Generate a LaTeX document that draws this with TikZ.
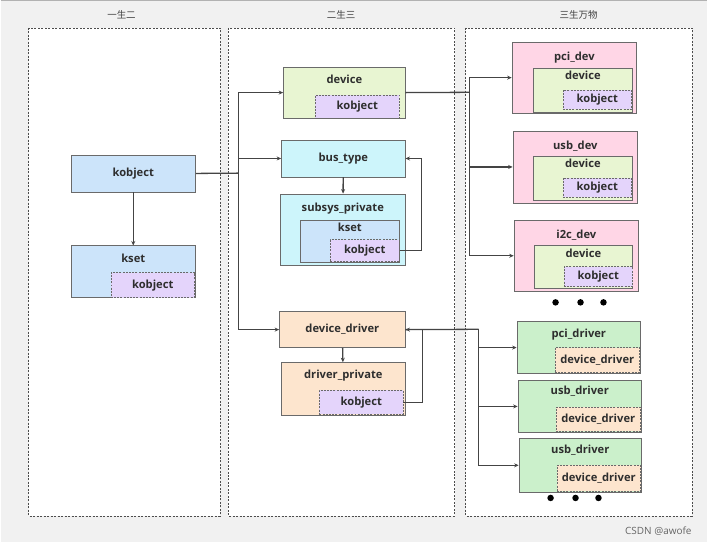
\documentclass[tikz,border=0pt]{standalone}
\usepackage{fontspec}
\setmainfont{Open Sans}
\newfontfamily\cjk{Noto Sans CJK SC}
\usepackage{xcolor}
\definecolor{KObj}{HTML}{E4D4FB}
\definecolor{KBlue}{HTML}{CCE4FA}
\definecolor{DevGreen}{HTML}{E8F5D2}
\definecolor{BusCyan}{HTML}{CDF5FB}
\definecolor{DrvPeach}{HTML}{FDE5CE}
\definecolor{DevPink}{HTML}{FFD6E6}
\definecolor{DrvGreen}{HTML}{CBF0CB}
\definecolor{LineGray}{HTML}{444444}
\definecolor{BoxEdge}{HTML}{6A6A6A}
\definecolor{BgGray}{HTML}{F1F1F1}
\usepackage{tikz}
\usetikzlibrary{arrows.meta, positioning}

\begin{document}
\begin{tikzpicture}[x=1pt, y=-1pt,
  panel/.style={draw=black!70, fill=white, dash pattern=on 2pt off 1.5pt, line width=0.6pt},
  box/.style={draw=BoxEdge, line width=0.6pt, anchor=north west, inner sep=0pt,
    font=\bfseries\fontsize{11.2}{13}\selectfont, text=black!82},
  objbox/.style={box, dash pattern=on 2pt off 1.2pt, fill=KObj},
  lbl/.style={inner sep=0pt, font=\bfseries\fontsize{11.2}{13}\selectfont, text=black!82},
  head/.style={font=\cjk\fontsize{9.5}{11}\selectfont, text=black!75},
  link/.style={draw=LineGray, line width=1.3pt},
  arr/.style={link, -{Stealth[length=4.5pt, width=4pt]}},
  dot/.style={circle, fill=black, inner sep=0pt, minimum size=6.5pt}]

% background and the three panels
\fill[BgGray] (0,0) rectangle (708,543);
\fill[white] (0,543) rectangle (708,549);
\draw[black!30, line width=1.5pt] (0,0.75) -- (708,0.75);
\draw[panel] (28,28) rectangle (220,517);
\draw[panel] (228,28) rectangle (455,517);
\draw[panel] (466,28) rectangle (693,517);
\node[head] (h1) at (121,15) {一生二};
\node[head] (h2) at (341,15) {二生三};
\node[head] (h3) at (579,15) {三生万物};

% left panel
\node[box, fill=KBlue, minimum width=125pt, minimum height=37pt] (kobj) at (70,155) {kobject};
\node[box, fill=KBlue, minimum width=125pt, minimum height=52pt] (kset) at (70,246) {};
\node[lbl, below=8pt of kset.north] (ksett) {kset};
\node[objbox, minimum width=84pt, minimum height=25pt] (ksetobj) at (110,273) {kobject};

% middle panel
\node[box, fill=DevGreen, minimum width=122pt, minimum height=51pt] (device) at (283,67) {};
\node[lbl, below=8pt of device.north] (devicet) {device};
\node[objbox, minimum width=84pt, minimum height=23pt] (devobj) at (315,95) {kobject};

\node[box, fill=BusCyan, minimum width=124pt, minimum height=37pt] (bustype) at (281,140) {bus\_type};

\node[box, fill=BusCyan, minimum width=125pt, minimum height=72pt] (subsys) at (280,194) {};
\node[lbl, below=9pt of subsys.north] (subsyst) {subsys\_private};
\node[box, fill=KBlue, minimum width=99pt, minimum height=43pt] (sskset) at (300,220) {};
\node[lbl, below=3pt of sskset.north] (ssksett) {kset};
\node[objbox, minimum width=69pt, minimum height=22pt] (ssobj) at (330,240) {kobject};

\node[box, fill=DrvPeach, minimum width=126pt, minimum height=36pt] (devdrv) at (279,312) {device\_driver};
\node[box, fill=DrvPeach, minimum width=124pt, minimum height=53pt] (drvpriv) at (281,363) {};
\node[lbl, below=8pt of drvpriv.north] (drvprivt) {driver\_private};
\node[objbox, minimum width=84pt, minimum height=24pt] (drvobj) at (319,391) {kobject};

% right panel: devices
\node[box, fill=DevPink, minimum width=125pt, minimum height=71pt] (pcidev) at (512,42) {};
\node[lbl, below=10pt of pcidev.north] (pcidevt) {pci\_dev};
\node[box, fill=DevGreen, minimum width=100pt, minimum height=44pt] (pcidevd) at (533,68) {};
\node[lbl, below=3pt of pcidevd.north] (pcidevdt) {device};
\node[objbox, minimum width=69pt, minimum height=19pt] (pcidevo) at (563,90) {kobject};

\node[box, fill=DevPink, minimum width=125pt, minimum height=72pt] (usbdev) at (513,131) {};
\node[lbl, below=10pt of usbdev.north] (usbdevt) {usb\_dev};
\node[box, fill=DevGreen, minimum width=100pt, minimum height=44pt] (usbdevd) at (533,156) {};
\node[lbl, below=3pt of usbdevd.north] (usbdevdt) {device};
\node[objbox, minimum width=69pt, minimum height=19pt] (usbdevo) at (563,178) {kobject};

\node[box, fill=DevPink, minimum width=125pt, minimum height=72pt] (i2cdev) at (514,220) {};
\node[lbl, below=10pt of i2cdev.north] (i2cdevt) {i2c\_dev};
\node[box, fill=DevGreen, minimum width=99pt, minimum height=43pt] (i2cdevd) at (534,246) {};
\node[lbl, below=3pt of i2cdevd.north] (i2cdevdt) {device};
\node[objbox, minimum width=69pt, minimum height=20pt] (i2cdevo) at (564,267) {kobject};

\node[dot] (dd1) at (556,303) {};
\node[dot] (dd2) at (581,303) {};
\node[dot] (dd3) at (604,303) {};

% right panel: drivers
\node[box, fill=DrvGreen, minimum width=124pt, minimum height=52pt] (pcidrv) at (517,322) {};
\node[lbl, below=7pt of pcidrv.north] (pcidrvt) {pci\_driver};
\node[objbox, fill=DrvPeach, minimum width=85pt, minimum height=25pt] (pcidrvo) at (555,348) {device\_driver};

\node[box, fill=DrvGreen, minimum width=124pt, minimum height=52pt] (usbdrv) at (518,381) {};
\node[lbl, below=6pt of usbdrv.north] (usbdrvt) {usb\_driver};
\node[objbox, fill=DrvPeach, minimum width=85pt, minimum height=24pt] (usbdrvo) at (556,408) {device\_driver};

\node[box, fill=DrvGreen, minimum width=123pt, minimum height=54pt] (usbdrvb) at (519,439) {};
\node[lbl, below=7pt of usbdrvb.north] (usbdrvbt) {usb\_driver};
\node[objbox, fill=DrvPeach, minimum width=84pt, minimum height=26pt] (usbdrvbo) at (557,466) {device\_driver};

\node[dot] (rd1) at (551,499) {};
\node[dot] (rd2) at (576,499) {};
\node[dot] (rd3) at (599,499) {};

\node[font=\fontsize{10}{12}\selectfont, text=black!60] (csdn) at (659,532) {CSDN @awofe};

% connectors
\coordinate (kj) at (238,173.5);
\coordinate (vj) at (470,92.5);
\coordinate (dj) at (479,330);
\draw[arr] (kobj) -- (kset);
\draw[link] (kobj.east) -- (kj);
\draw[arr] (kj) |- (device.west);
\draw[arr] (kj) |- (bustype.west);
\draw[arr] (kj) |- (devdrv.west);
\draw[arr] (bustype) -- (subsys);
\draw[arr] (ssobj.east) -- ++(22,0) |- (bustype.east);
\draw[arr] (devdrv) -- (drvpriv);
\draw[arr] (drvobj.east) -- ++(19,0) |- (devdrv.east);
\draw[link] (device.east) -- (vj);
\draw[arr] (vj) |- (pcidev.west);
\draw[arr] (vj) |- (usbdev.west);
\draw[arr] (vj) |- (i2cdev.west);
\draw[link] (devdrv.east) -- (dj);
\draw[arr] (dj) |- (pcidrv.west);
\draw[arr] (dj) |- (usbdrv.west);
\draw[arr] (dj) |- (usbdrvb.west);
\end{tikzpicture}
\end{document}
